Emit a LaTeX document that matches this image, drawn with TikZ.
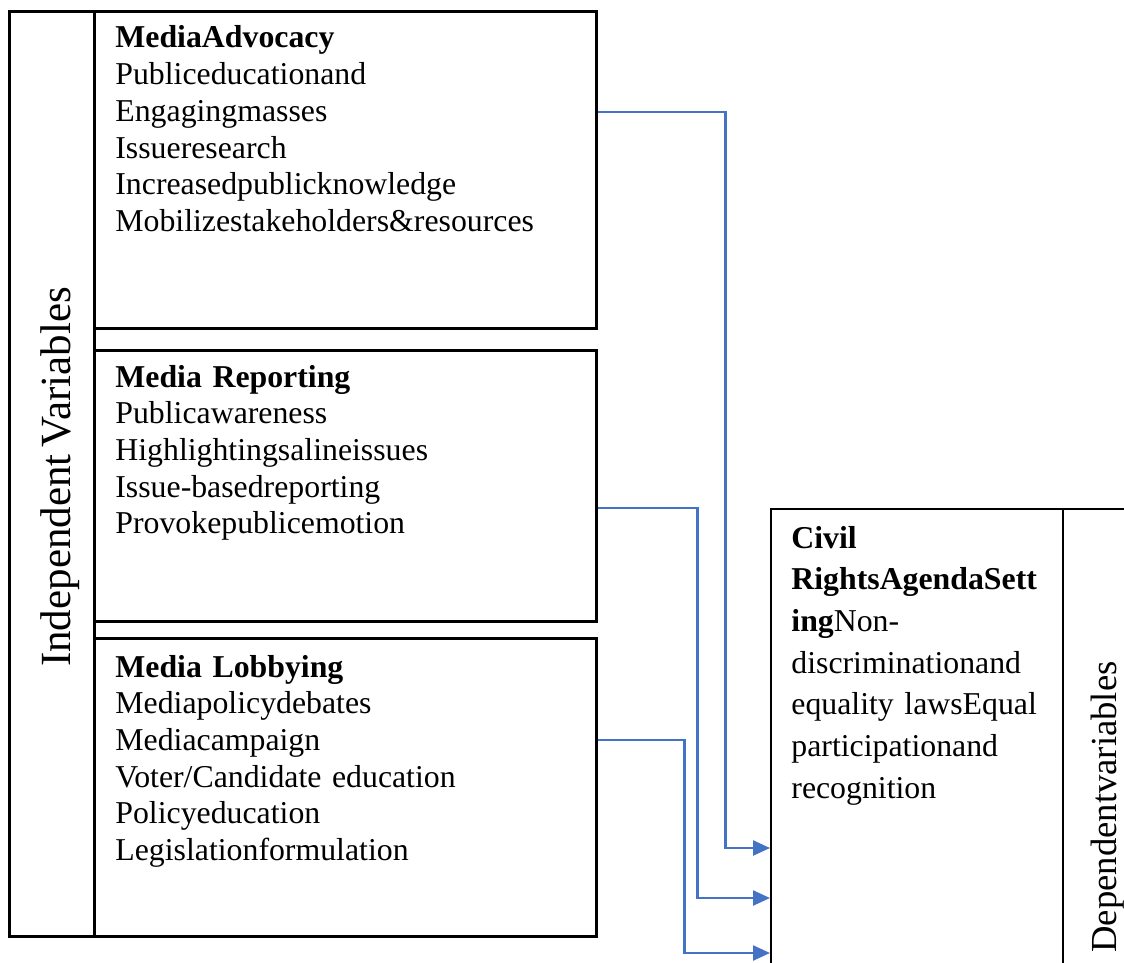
\documentclass[tikz,border=0pt]{standalone}
\usepackage{fontspec}
\setmainfont{Liberation Serif}
\usetikzlibrary{arrows.meta,calc}
\definecolor{flowblue}{RGB}{68,114,196}
\tikzstyle{cell}=[draw=black,line width=#1,anchor=north west,inner sep=0pt]
\tikzstyle{items}=[anchor=base west,align=left,inner sep=0pt,text width=#1,font=\fontsize{15.9pt}{18.35pt}\selectfont]
\newcommand{\cellbox}[6]{\node[cell=#6,minimum width=#4,minimum height=#5] (#1) at (#2,#3) {};}
\newcommand{\flowline}[5]{ \draw[flow] ($(#1.north east)+(0,#2)$) -- ++(#3,0) |- ($(#4.north west)+(0,#5)$);}
\tikzset{
	flow/.style={draw=flowblue,line width=1.2pt,-{Triangle[length=8.5pt,width=7.5pt]}},
}

\begin{document}
\begin{tikzpicture}[x=0.5pt,y=-0.5pt]
    \useasboundingbox (0,0) rectangle (1124,963);
    \clip (0,0) rectangle (1124,963);
    % left column and the three media boxes
    \cellbox{indep}{8}{10}{42.5pt}{462.5pt}{1.3pt}
    \cellbox{advocacy}{93}{10}{251pt}{158.5pt}{1.3pt}
    \cellbox{reporting}{93}{349}{251pt}{135.5pt}{1.3pt}
    \cellbox{lobbying}{93}{637}{251pt}{149pt}{1.3pt}
    \cellbox{civil}{770}{508}{146pt}{250pt}{0.8pt}
    \cellbox{dep}{1062}{508}{45pt}{250pt}{0.8pt}

    \node[rotate=90,font=\fontsize{21.5pt}{24pt}\selectfont] (indeplabel) at (60,477) {Independent\,Variables};
    \node[rotate=90,font=\fontsize{18.35pt}{22pt}\selectfont] (deplabel) at (1108,807) {Dependentvariables};

    \node[items=240pt] (advocacytext) at (115,48) {\textbf{MediaAdvocacy}\\Publiceducationand\\Engagingmasses\\Issueresearch\\Increasedpublicknowledge\\Mobilizestakeholders\&resources};
    \node[items=240pt] (reportingtext) at (115,387) {\textbf{Media Reporting}\\Publicawareness\\Highlightingsalineissues\\Issue-basedreporting\\Provokepublicemotion};
    \node[items=240pt] (lobbyingtext) at (115,677) {\textbf{Media Lobbying}\\Mediapolicydebates\\Mediacampaign\\Voter/Candidate education\\Policyeducation\\Legislationformulation};
    \node[items=140pt,font=\fontsize{15.9pt}{20.85pt}\selectfont] (civiltext) at (791,548) {\textbf{Civil}\\\textbf{RightsAgendaSett}\\\textbf{ing}Non-\\discriminationand\\equality lawsEqual\\participationand\\recognition};

    \flowline{advocacy}{102}{128}{civil}{340}
    \flowline{reporting}{159}{100}{civil}{390}
    \flowline{lobbying}{103}{87}{civil}{445}
\end{tikzpicture}
\end{document}
